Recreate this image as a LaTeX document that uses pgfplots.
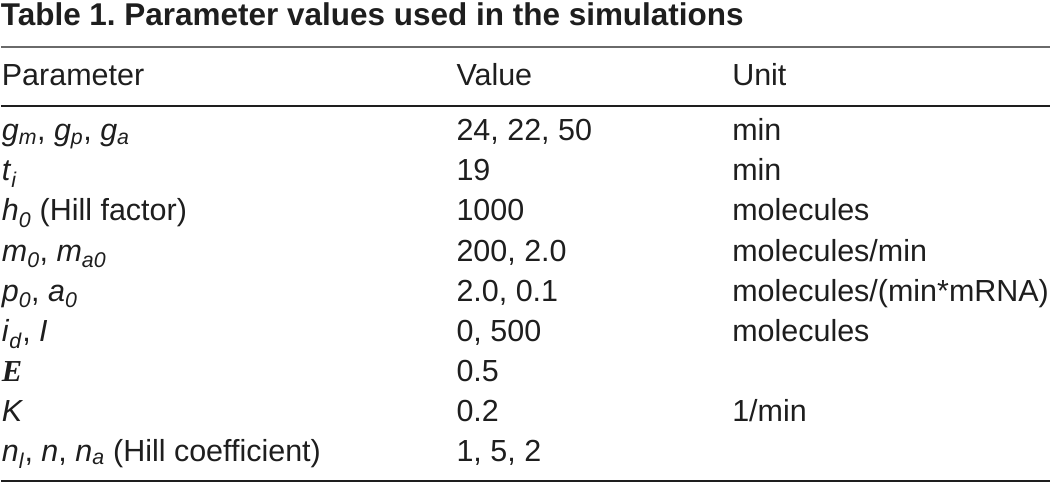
\documentclass[border=0pt]{standalone}
\usepackage{pgfplots}
\pgfplotsset{compat=1.18}
\usepackage{fontspec}
\setmainfont{Liberation Sans}
\newfontfamily\timesfont{Liberation Serif}
\frenchspacing
\definecolor{txt}{HTML}{1E1E1E}
\definecolor{rulegray}{HTML}{6A6A6A}
\newcommand{\iv}[1]{\textit{#1}}
\newcommand{\sub}[1]{\textsubscript{\textit{#1}}}
\tikzset{cell/.style={anchor=base west, inner sep=0pt, outer sep=0pt, text=txt,
    font=\fontsize{30.5bp}{40bp}\selectfont}}
\begin{document}
\begin{tikzpicture}
\begin{axis}[
  scale only axis, width=1052bp, height=483bp,
  xmin=0, xmax=1052, ymin=0, ymax=483, y dir=reverse,
  hide axis, clip=false,
]
% rules
\addplot[draw=none, forget plot] coordinates {(0,0) (1052,483)};
\addplot[rulegray, line width=1.6bp] coordinates {(0,47) (1050,47)};
\addplot[txt, line width=1.8bp] coordinates {(0,106) (1050,106)};
\addplot[txt, line width=1.8bp] coordinates {(0,481.5) (1050,481.5)};
% title
\node[cell, font=\fontsize{31.5bp}{40bp}\selectfont\bfseries] at (axis cs:0,25.5) {Table 1. Parameter values used in the simulations};
% header
\node[cell] at (axis cs:1,86) {Parameter};
\node[cell] at (axis cs:456,86) {Value};
\node[cell] at (axis cs:732,86) {Unit};
% rows
\node[cell] at (axis cs:1,141) {\iv{g}\sub{m}, \iv{g}\sub{p}, \iv{g}\sub{a}};
\node[cell] at (axis cs:456,141) {24, 22, 50};
\node[cell] at (axis cs:732,141) {min};
\node[cell] at (axis cs:1,181) {\iv{t}\sub{i}};
\node[cell] at (axis cs:456,181) {19};
\node[cell] at (axis cs:732,181) {min};
\node[cell] at (axis cs:1,221) {\iv{h}\sub{0} (Hill factor)};
\node[cell] at (axis cs:456,221) {1000};
\node[cell] at (axis cs:732,221) {molecules};
\node[cell] at (axis cs:1,261.5) {\iv{m}\sub{0}, \iv{m}\sub{a0}};
\node[cell] at (axis cs:456,261.5) {200, 2.0};
\node[cell] at (axis cs:732,261.5) {molecules/min};
\node[cell] at (axis cs:1,301.5) {\iv{p}\sub{0}, \iv{a}\sub{0}};
\node[cell] at (axis cs:456,301.5) {2.0, 0.1};
\node[cell] at (axis cs:732,301.5) {molecules/(min*mRNA)};
\node[cell] at (axis cs:1,341.5) {\iv{i}\sub{d}, \iv{I}};
\node[cell] at (axis cs:456,341.5) {0, 500};
\node[cell] at (axis cs:732,341.5) {molecules};
\node[cell] at (axis cs:1,381.5) {\timesfont\bfseries\itshape E};
\node[cell] at (axis cs:456,381.5) {0.5};
\node[cell] at (axis cs:1,421.5) {\iv{K}};
\node[cell] at (axis cs:456,421.5) {0.2};
\node[cell] at (axis cs:732,421.5) {1/min};
\node[cell] at (axis cs:1,461.5) {\iv{n}\sub{l}, \iv{n}, \iv{n}\sub{a} (Hill coefficient)};
\node[cell] at (axis cs:456,461.5) {1, 5, 2};
\end{axis}
\end{tikzpicture}
\end{document}
